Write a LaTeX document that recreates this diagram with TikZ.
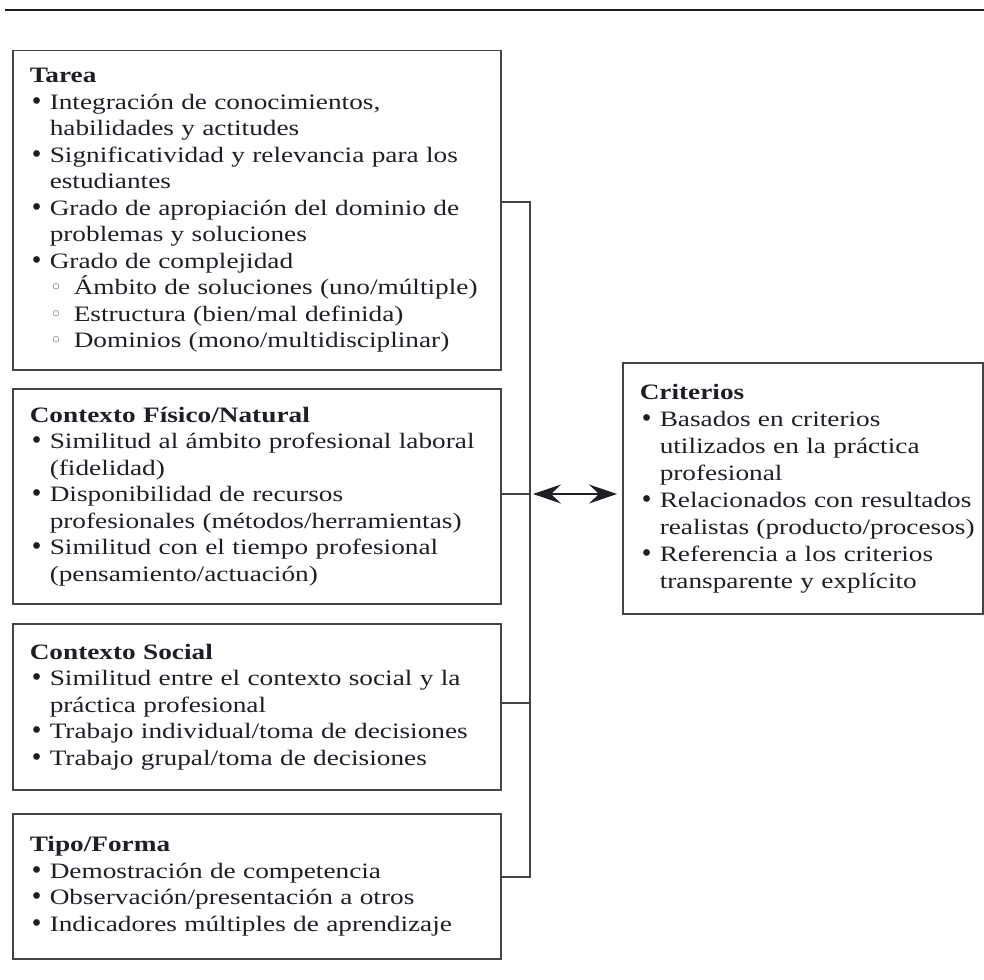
\documentclass[tikz,border=0pt]{standalone}
\usepackage{fontspec}
\setmainfont{Liberation Serif}[FakeStretch=1.24]
\newfontfamily\markfont{DejaVu Sans}
\usetikzlibrary{arrows.meta}

\definecolor{ink}{HTML}{1E1E26}
\definecolor{rulegray}{HTML}{444444}
\definecolor{subgray}{HTML}{6E6E6E}

% one line of a box: title, bullet item, continuation, sub-item
\newcommand\ttl[1]{\mbox{\bfseries #1}}
\newcommand\itm[1]{\mbox{\makebox[20pt][l]{\hspace{0pt}{\markfont\fontsize{23}{23}\selectfont\char"2022}}#1}}
\newcommand\cnt[1]{\mbox{\hspace*{20pt}#1}}
\newcommand\subitm[1]{\mbox{\hspace*{20pt}\makebox[24pt][l]{\hspace{0pt}{\color{subgray}\markfont\fontsize{21}{21}\selectfont\char"25E6}}#1}}

\tikzset{
  panel/.style={draw=rulegray, line width=1.5pt, anchor=north west,
    inner xsep=17pt, inner ysep=0pt, align=left, text=ink,
    font=\fontsize{22}{26.5}\selectfont},
  conn/.style={draw=rulegray, line width=1.5pt},
  bigtip/.tip={Stealth[length=28pt, width=19pt, inset=10pt]},
}

\begin{document}
\begin{tikzpicture}[x=1pt, y=-1pt]
\useasboundingbox (0,0) rectangle (984,979);

% rule across the top
\coordinate (ruleL) at (5,10);
\coordinate (ruleR) at (984,10);
\draw[ink, line width=2.5pt] (ruleL) -- (ruleR);

\node[panel, minimum width=488pt, minimum height=319pt, text width=454pt] (tarea) at (12,50) {%
\ttl{Tarea}\\
\itm{Integración de conocimientos,}\\
\cnt{habilidades y actitudes}\\
\itm{Significatividad y relevancia para los}\\
\cnt{estudiantes}\\
\itm{Grado de apropiación del dominio de}\\
\cnt{problemas y soluciones}\\
\itm{Grado de complejidad}\\
\subitm{Ámbito de soluciones (uno/múltiple)}\\
\subitm{Estructura (bien/mal definida)}\\
\subitm{Dominios (mono/multidisciplinar)}};

\node[panel, minimum width=488pt, minimum height=215pt, text width=454pt] (fisico) at (12,388) {%
\ttl{Contexto Físico/Natural}\\
\itm{Similitud al ámbito profesional laboral}\\
\cnt{(fidelidad)}\\
\itm{Disponibilidad de recursos}\\
\cnt{profesionales (métodos/herramientas)}\\
\itm{Similitud con el tiempo profesional}\\
\cnt{(pensamiento/actuación)}};

\node[panel, minimum width=488pt, minimum height=166pt, text width=454pt] (social) at (12,623) {%
\ttl{Contexto Social}\\
\itm{Similitud entre el contexto social y la}\\
\cnt{práctica profesional}\\
\itm{Trabajo individual/toma de decisiones}\\
\itm{Trabajo grupal/toma de decisiones}};

\node[panel, minimum width=488pt, minimum height=145pt, text width=454pt] (tipo) at (12,813) {%
\ttl{Tipo/Forma}\\
\itm{Demostración de competencia}\\
\itm{Observación/presentación a otros}\\
\itm{Indicadores múltiples de aprendizaje}};

\node[panel, minimum width=360pt, minimum height=251pt, text width=326pt,
      font=\fontsize{22}{27}\selectfont] (crit) at (622,362) {%
\ttl{Criterios}\\
\itm{Basados en criterios}\\
\cnt{utilizados en la práctica}\\
\cnt{profesional}\\
\itm{Relacionados con resultados}\\
\cnt{realistas (producto/procesos)}\\
\itm{Referencia a los criterios}\\
\cnt{transparente y explícito}};

% collecting bus on the right of the four boxes
\coordinate (j1) at (530,202);
\coordinate (j2) at (530,494);
\coordinate (j3) at (530,703);
\coordinate (j4) at (530,877);

\draw[conn] (tarea.east |- j1) -- (j1) -- (j4) -- (tipo.east |- j4);
\draw[conn] (fisico.east |- j2) -- (j2);
\draw[conn] (social.east |- j3) -- (j3);
\draw[conn, draw=ink, bigtip-bigtip, shorten <=3pt, shorten >=5pt] (j2) -- (crit.west |- j2);

\end{tikzpicture}
\end{document}
